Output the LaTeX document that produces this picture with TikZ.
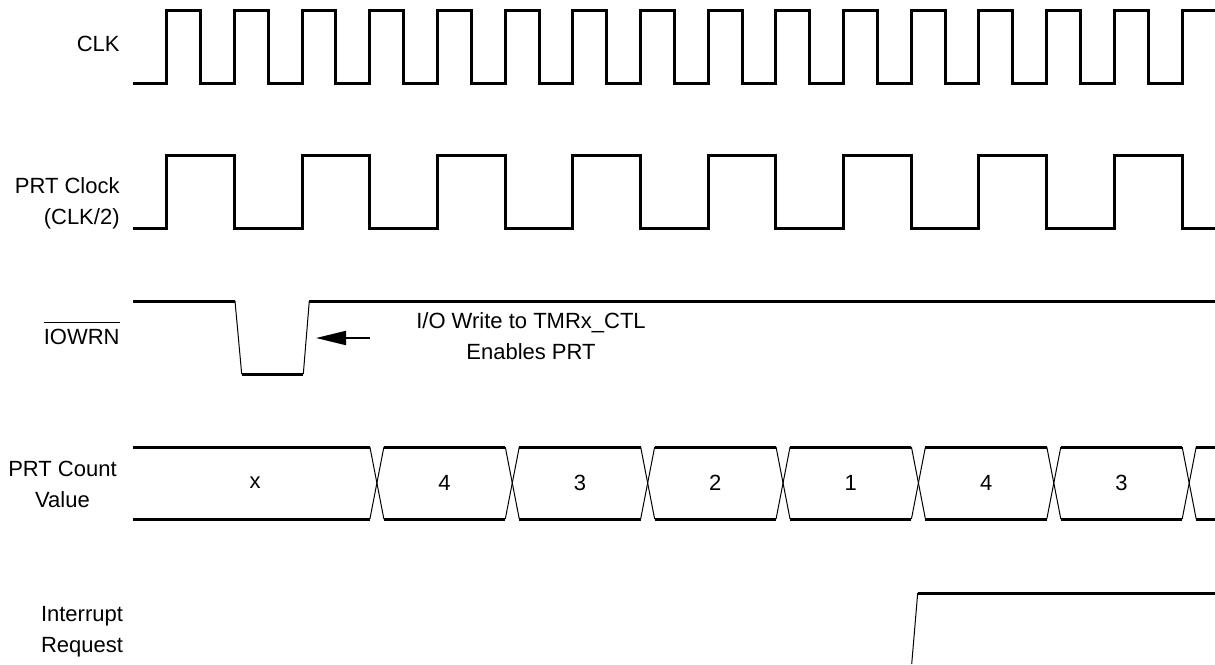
\documentclass[tikz,border=0pt]{standalone}
\usepackage{fontspec}
\setmainfont{Liberation Sans}
\usetikzlibrary{
  arrows.meta,
  positioning,
  calc}
\tikzset{every picture/.style={font issue=\fontsize{11}{15.5}},
         font issue/.style={execute at begin picture={#1\selectfont}},
         signal/.style={line width=1.5pt},
         edge/.style={line width=0.5pt},
         siglabel/.style={inner sep=0pt}
        }

\begin{document}
\begin{tikzpicture}[x=0.5pt, y=-0.5pt]
\useasboundingbox (0,0) rectangle (1215,664);
\pgfmathsetmacro{\hp}{33.845}
\pgfmathsetmacro{\per}{135.38}

% labels
\node[siglabel, anchor=east] (clk) at (120,44) {CLK};
\node[siglabel, anchor=east, align=right] (prtclk) at (120,203) {PRT Clock\\(CLK/2)};
\node[siglabel, anchor=base east] (iowrn) at (120,344) {$\overline{\hbox{\vrule height 9.6pt width 0pt IOWRN}}$};
\node[siglabel, align=center] (count) at (62.5,484) {PRT Count\\Value};
\node[siglabel, align=center] (irq) at (82,632) {Interrupt\\Request};

% CLK
\draw[signal] (133,83) foreach \k in {0,...,14} {
  -- ({166.7+2*\hp*\k},83) -- ({166.7+2*\hp*\k},10)
  -- ({166.7+2*\hp*\k+\hp},10) -- ({166.7+2*\hp*\k+\hp},83) }
  -- (1182,83) -- (1182,10) -- (1215,10);

% PRT clock
\draw[signal] (133,228) foreach \k in {0,...,7} {
  -- ({166.7+\per*\k},228) -- ({166.7+\per*\k},155)
  -- ({234.39+\per*\k},155) -- ({234.39+\per*\k},228) }
  -- (1215,228);

% IOWRN
\draw[signal] (133,301) -- (235,301);
\draw[edge] (235,301) -- (241.7,374);
\draw[signal] (241.7,374) -- (303.3,374);
\draw[edge] (303.3,374) -- (309.3,301);
\draw[signal] (309.3,301) -- (1215,301);

\coordinate (arrowstart) at (370,338);
\coordinate (arrowtip) at (316,338);
\draw[-{Triangle[length=15pt, width=7pt]}, line width=1pt] (arrowstart) -- (arrowtip);
\node[align=center] (note) at (531,336) {I/O Write to TMRx\_CTL\\Enables PRT};

% PRT count value
\draw[signal] (133,447) -- (370,447);
\draw[signal] (133,519) -- (370,519);
\node (val0) at (255,483) {x};
\foreach \v [count=\k from 0] in {4,3,2,1,4,3} {
  \pgfmathsetmacro{\c}{376.9+\per*\k}
  \draw[edge] (\c-7,447) -- (\c+7,519);
  \draw[edge] (\c-7,519) -- (\c+7,447);
  \draw[signal] (\c+7,447) -- (\c+\per-7,447);
  \draw[signal] (\c+7,519) -- (\c+\per-7,519);
  \node (val\v\k) at (\c+\per/2,483) {\v};
}
\pgfmathsetmacro{\c}{376.9+\per*6}
\draw[edge] (\c-7,447) -- (\c+7,519);
\draw[edge] (\c-7,519) -- (\c+7,447);
\draw[signal] (\c+7,447) -- (1215,447);
\draw[signal] (\c+7,519) -- (1215,519);

% interrupt request
\draw[edge] (911.7,664) -- (917.7,593);
\draw[signal] (917.7,593) -- (1215,593);
\end{tikzpicture}
\end{document}
